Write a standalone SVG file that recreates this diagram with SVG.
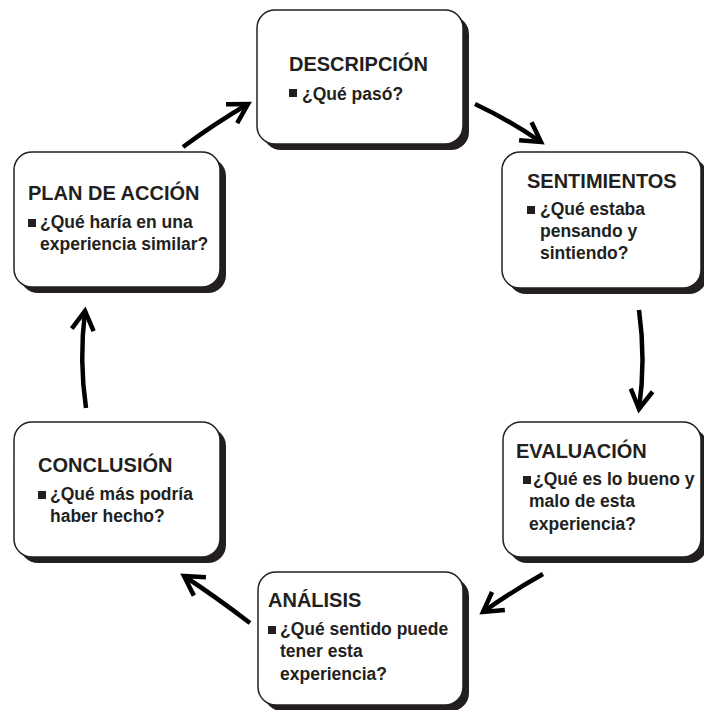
<svg xmlns="http://www.w3.org/2000/svg" width="704" height="710" viewBox="0 0 704 710">
<style>
.sh{fill:#231f20}
.bx{fill:#fff;stroke:#231f20;stroke-width:1.5}
.t{font-family:"Liberation Sans",Arial,sans-serif;font-weight:bold;font-size:20px;fill:#231f20}
.b{font-family:"Liberation Sans",Arial,sans-serif;font-weight:bold;font-size:17.5px;fill:#231f20}
.sq{fill:#231f20}
.ar{fill:none;stroke:#000;stroke-width:4.5;marker-end:url(#ah)}
</style>
<defs>
<marker id="ah" markerUnits="userSpaceOnUse" markerWidth="40" markerHeight="40" viewBox="-30 -20 40 40" refX="0" refY="0" orient="auto" overflow="visible">
<path d="M-19,-11 L0,0 L-19,11" fill="none" stroke="#000" stroke-width="4.5" stroke-linejoin="miter"/>
</marker>
</defs>
<rect width="704" height="710" fill="#fff"/>
<g id="connectors">
<path class="ar" d="M183,147 Q214,124 248,104"/>
<path class="ar" d="M475,104 Q509,120 541,142"/>
<path class="ar" d="M639,310 Q646,360 639,409"/>
<path class="ar" d="M543,574 Q511,592 483,612"/>
<path class="ar" d="M250,623 Q216,597 184,576"/>
<path class="ar" d="M86,408 Q79,360 85,311"/>
</g>
<g id="descripcion">
<rect class="sh" x="263" y="16" width="206" height="134" rx="18"/>
<rect class="bx" x="257" y="10" width="206" height="134" rx="18"/>
<text class="t" x="289" y="71">DESCRIPCIÓN</text>
<rect class="sq" x="289" y="89" width="8" height="8"/>
<text class="b" x="302" y="100">¿Qué pasó?</text>
</g>
<g id="sentimientos">
<rect class="sh" x="508" y="158" width="199" height="136" rx="18"/>
<rect class="bx" x="502" y="152" width="199" height="136" rx="18"/>
<text class="t" x="527" y="188">SENTIMIENTOS</text>
<rect class="sq" x="527" y="206" width="8" height="8"/>
<text class="b" x="540" y="215">¿Qué estaba</text>
<text class="b" x="540" y="237">pensando y</text>
<text class="b" x="540" y="259">sintiendo?</text>
</g>
<g id="evaluacion">
<rect class="sh" x="509" y="428" width="198" height="135" rx="18"/>
<rect class="bx" x="503" y="422" width="198" height="135" rx="18"/>
<text class="t" x="516" y="458">EVALUACIÓN</text>
<rect class="sq" x="523" y="476" width="8" height="8"/>
<text class="b" x="533" y="485">¿Qué es lo bueno y</text>
<text class="b" x="529" y="507">malo de esta</text>
<text class="b" x="529" y="530">experiencia?</text>
</g>
<g id="analisis">
<rect class="sh" x="264" y="578" width="205" height="133" rx="18"/>
<rect class="bx" x="258" y="572" width="205" height="133" rx="18"/>
<text class="t" x="268" y="607">ANÁLISIS</text>
<rect class="sq" x="268" y="626" width="8" height="8"/>
<text class="b" x="280" y="635">¿Qué sentido puede</text>
<text class="b" x="280" y="657">tener esta</text>
<text class="b" x="280" y="680">experiencia?</text>
</g>
<g id="conclusion">
<rect class="sh" x="20" y="428" width="206" height="135" rx="18"/>
<rect class="bx" x="14" y="422" width="206" height="135" rx="18"/>
<text class="t" x="38" y="472">CONCLUSIÓN</text>
<rect class="sq" x="38" y="491" width="8" height="8"/>
<text class="b" x="50" y="500">¿Qué más podría</text>
<text class="b" x="50" y="522">haber hecho?</text>
</g>
<g id="plan">
<rect class="sh" x="20" y="158" width="206" height="135" rx="18"/>
<rect class="bx" x="14" y="152" width="206" height="135" rx="18"/>
<text class="t" x="28" y="200">PLAN DE ACCIÓN</text>
<rect class="sq" x="28" y="219" width="8" height="8"/>
<text class="b" x="40" y="228">¿Qué haría en una</text>
<text class="b" x="40" y="250">experiencia similar?</text>
</g>
</svg>
